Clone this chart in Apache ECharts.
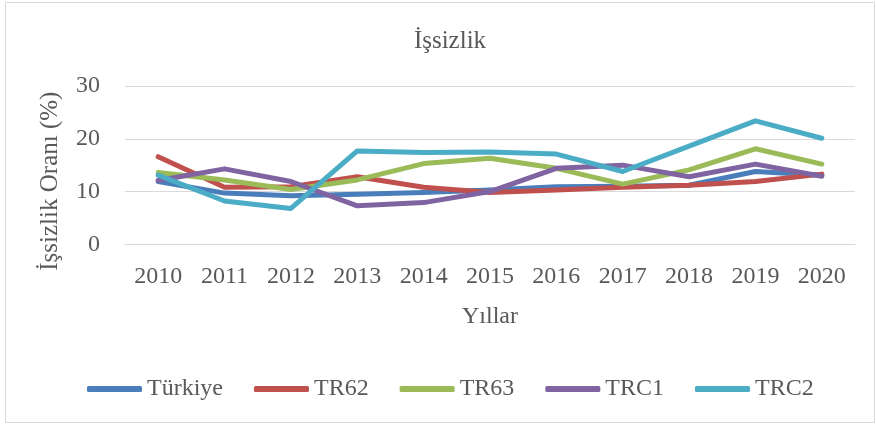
<!DOCTYPE html>
<html>
<head>
<meta charset="utf-8">
<script src="https://cdn.jsdelivr.net/npm/echarts@6/dist/echarts.min.js"></script>
<style>
html,body{margin:0;padding:0;background:#fff;}
#c{width:876px;height:426px;}
</style>
</head>
<body>
<div id="c"></div>
<script>
const years = ['2010','2011','2012','2013','2014','2015','2016','2017','2018','2019','2020'];
const turkiye = [11.9, 9.7, 9.2, 9.5, 9.8, 10.3, 10.9, 11.0, 11.2, 13.8, 13.1];
const tr62 = [16.6, 10.8, 10.9, 12.8, 10.8, 9.8, 10.3, 10.8, 11.2, 11.9, 13.3];
const tr63 = [13.6, 12.2, 10.4, 12.2, 15.3, 16.3, 14.4, 11.4, 14.1, 18.1, 15.2];
const trc1 = [12.1, 14.3, 11.9, 7.3, 7.9, 10.0, 14.4, 15.0, 12.8, 15.2, 12.9];
const trc2 = [13.1, 8.2, 6.8, 17.7, 17.4, 17.5, 17.1, 13.8, 18.6, 23.4, 20.1];
const seriesNames = ['Türkiye', 'TR62', 'TR63', 'TRC1', 'TRC2'];
const seriesData = [turkiye, tr62, tr63, trc1, trc2];
const colors = ['#4a7ebb', '#c0504d', '#9bbb59', '#8064a2', '#4bacc6'];
const yTicks = [0, 10, 20, 30];

const FONT = '"Liberation Serif", "DejaVu Serif", serif';
const chart = echarts.init(document.getElementById('c'), null, {renderer: 'canvas'});
chart.setOption({
  animation: false,
  backgroundColor: '#fff',
  color: colors,
  title: {
    text: 'İşsizlik',
    left: 445, top: 24,
    textAlign: 'center',
    textStyle: {fontFamily: FONT, fontSize: 25, fontWeight: 'normal', color: '#595959'}
  },
  graphic: [{
    type: 'rect', silent: true,
    shape: {x: 5.5, y: 2.5, width: 869, height: 420},
    style: {fill: 'none', stroke: '#d9d9d9', lineWidth: 1}
  }],
  legend: {
    left: 82, top: 372,
    itemWidth: 55, itemHeight: 6, itemGap: 31,
    icon: 'roundRect',
    textStyle: {fontFamily: FONT, fontSize: 24, color: '#595959'},
    data: seriesNames
  },
  grid: {left: 125, right: 21, top: 86, bottom: 426 - 244.3, containLabel: false},
  xAxis: {
    type: 'category', data: years, boundaryGap: true,
    name: 'Yıllar', nameLocation: 'middle', nameGap: 60,
    nameTextStyle: {fontFamily: FONT, fontSize: 24, color: '#595959'},
    axisLine: {show: true, lineStyle: {color: '#d9d9d9', width: 1}},
    axisTick: {show: false},
    axisLabel: {fontFamily: FONT, fontSize: 24, color: '#595959', margin: 20}
  },
  yAxis: {
    type: 'value', min: 0, max: 30, interval: 10,
    name: 'İşsizlik Oranı (%)', nameLocation: 'middle', nameGap: 62,
    nameTextStyle: {fontFamily: FONT, fontSize: 25, color: '#595959', padding: [0, 32, 0, 0]},
    axisLine: {show: false}, axisTick: {show: false},
    splitLine: {lineStyle: {color: '#d9d9d9', width: 1}},
    axisLabel: {fontFamily: FONT, fontSize: 24, color: '#595959', margin: 25,
      formatter: v => yTicks.includes(v) ? String(v) : ''}
  },
  series: seriesNames.map((n, i) => ({
    name: n, type: 'line', data: seriesData[i],
    symbol: 'none', smooth: false,
    lineStyle: {width: 5, cap: 'round', join: 'round'}
  }))
});
</script>
</body>
</html>
